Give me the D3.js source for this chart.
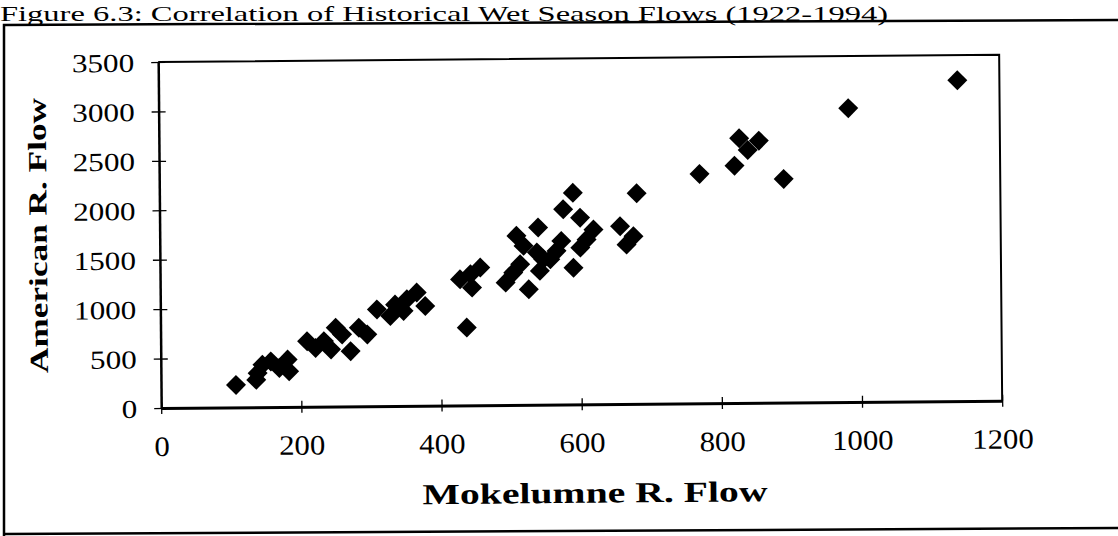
<!DOCTYPE html>
<html>
<head>
<meta charset="utf-8">
<script src="https://cdn.jsdelivr.net/npm/d3@7"></script>
<style>
  body { margin: 0; background: #fff; }
  svg { display: block; }
  text { font-family: "Liberation Serif", "Times New Roman", serif; fill: #000; }
</style>
</head>
<body>
<div class="content"></div>
<script>
// wet season flows
var mokelumne = [107, 136, 138, 145, 157, 169, 181, 183,
    209, 221, 233, 243, 250, 259, 271, 283, 295,
    309, 328, 335, 347, 352, 366, 378,
    428, 437, 443, 445, 457, 493, 504, 509, 514, 519, 526, 538, 540, 542, 547, 557, 566, 573,
    576, 590, 590, 600, 600, 609, 619, 657, 666, 676, 681,
    771, 821, 828, 840, 856, 891, 984, 1140];
var american = [227, 276, 344, 428, 461, 394, 478, 360,
    662, 594, 661, 577, 796, 728, 558, 795, 726,
    978, 910, 1025, 960, 1078, 1145, 1008,
    1275, 786, 1325, 1190, 1392, 1238, 1338, 1710, 1422, 1608, 1168, 1540, 1792, 1354, 1471, 1470, 1554, 1654,
    1975, 2140, 1382, 1888, 1585, 1666, 1766, 1798, 1612, 1695, 2130,
    2320, 2400, 2677, 2558, 2651, 2262, 2972, 3245];
var xTicks = [0, 200, 400, 600, 800, 1000, 1200];
var yTicks = [0, 500, 1000, 1500, 2000, 2500, 3000, 3500];

var width = 1118, height = 536;

var svg = d3.select('div.content').append('svg')
    .attr('width', width)
    .attr('height', height);

// outer frame of the scanned page
svg.append('path')
    .attr('d', 'M4,536 V25 L1118,20')
    .style('fill', 'none').style('stroke', '#000').style('stroke-width', 2.5);
svg.append('path')
    .attr('d', 'M4,534 L1118,528')
    .style('fill', 'none').style('stroke', '#000').style('stroke-width', 2.5);

svg.append('text')
    .attr('x', 0)
    .attr('y', 21)
    .attr('textLength', 888)
    .attr('lengthAdjust', 'spacingAndGlyphs')
    .style('font-size', '22px')
    .text('Figure 6.3: Correlation of Historical Wet Season Flows (1922-1994)');

// the scan is slightly tilted
var g = svg.append('g')
    .attr('transform', 'rotate(-0.5 559 268)');

var x = d3.scaleLinear().domain([0, 1200]).range([160, 1001]);
var y = d3.scaleLinear().domain([0, 3500]).range([404.5, 58.5]);

// top and right edge of the plot area
g.append('path')
    .attr('d', 'M' + x(0) + ',' + y(3500) + ' H' + x(1200) + ' V' + y(0))
    .style('fill', 'none').style('stroke', '#000').style('stroke-width', 2);

var yAxis = g.append('g')
    .attr('transform', 'translate(' + x(0) + ',0)')
    .call(d3.axisLeft(y).tickValues(yTicks).tickFormat(d3.format('d')).tickSize(7).tickSizeOuter(0));
yAxis.select('.domain').style('stroke-width', 2.5);
yAxis.selectAll('.tick line').attr('x1', 7).style('stroke-width', 1.3);
yAxis.selectAll('.tick text')
    .attr('x', -20)
    .attr('dy', '0.35em')
    .attr('transform', 'scale(1.2,1)')
    .style('font-size', '26px')
    .style('font-family', '"Liberation Serif", serif');

var xAxis = g.append('g')
    .attr('transform', 'translate(0,' + y(0) + ')')
    .call(d3.axisBottom(x).tickValues(xTicks).tickFormat(d3.format('d')).tickSize(6).tickSizeOuter(0));
xAxis.select('.domain').style('stroke-width', 3);
xAxis.selectAll('.tick line').attr('y1', -6).style('stroke-width', 1.3);
xAxis.selectAll('.tick text')
    .attr('x', 0)
    .attr('y', 28)
    .attr('dy', '0.71em')
    .attr('transform', 'scale(1.1,1)')
    .style('font-size', '28px')
    .style('font-family', '"Liberation Serif", serif');

g.append('text')
    .attr('x', 593)
    .attr('y', 503)
    .attr('text-anchor', 'middle')
    .attr('textLength', 345)
    .attr('lengthAdjust', 'spacingAndGlyphs')
    .style('font-size', '29px')
    .style('font-weight', 'bold')
    .text('Mokelumne R. Flow');

g.append('text')
    .attr('transform', 'translate(47,231) rotate(-90)')
    .attr('text-anchor', 'middle')
    .attr('textLength', 275)
    .attr('lengthAdjust', 'spacingAndGlyphs')
    .style('font-size', '26px')
    .style('font-weight', 'bold')
    .text('American R. Flow');

var points = d3.zip(mokelumne, american);

g.selectAll('path.pt')
    .data(points)
    .enter()
    .append('path')
        .attr('class', 'pt')
        .attr('d', d3.symbol(d3.symbolSquare, 200))
        .attr('transform', function(d) { return 'translate(' + x(d[0]) + ',' + y(d[1]) + ') rotate(45)' })
        .style('fill', '#000');
</script>
</body>
</html>
